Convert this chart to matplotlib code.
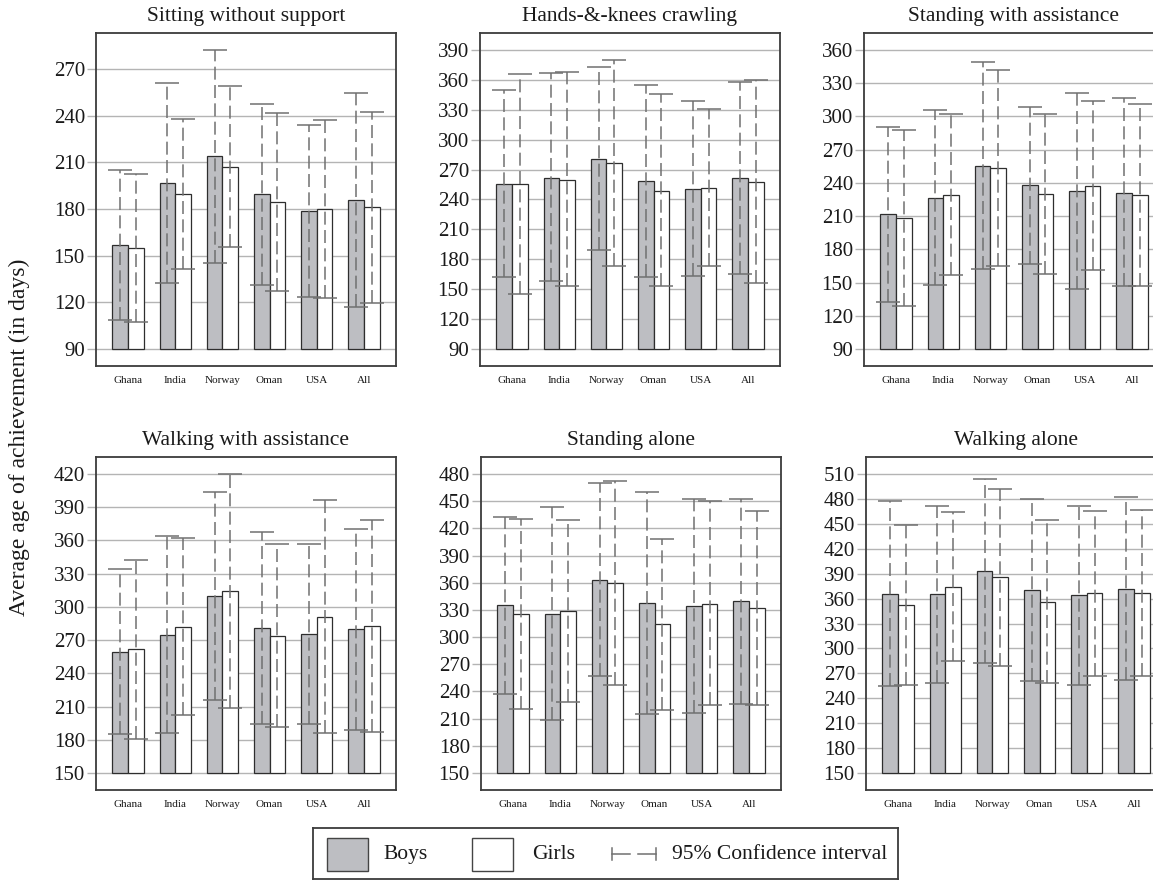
import numpy as np
import matplotlib
matplotlib.use("Agg")
import matplotlib.pyplot as plt
from matplotlib.patches import Rectangle
from matplotlib.lines import Line2D
import matplotlib.transforms as mtransforms

plt.rcParams['font.family'] = ['Liberation Serif', 'DejaVu Serif']

countries = ["Ghana", "India", "Norway", "Oman", "USA", "All"]

titles = ["Sitting without support", "Hands-&-knees crawling", "Standing with assistance",
          "Walking with assistance", "Standing alone", "Walking alone"]

# Sitting without support
sit_boys = [157, 197, 214, 189.5, 178.6, 186]
sit_girls = [155, 189.5, 207.3, 184.8, 179.7, 181]
sit_boys_lo = [108.8, 132.4, 145.6, 131.3, 123.2, 116.8]
sit_boys_hi = [205.2, 261, 282.4, 247.7, 234, 254.8]
sit_girls_lo = [107.3, 141.2, 155.7, 127.5, 122.5, 119.3]
sit_girls_hi = [202.6, 237.7, 259.3, 241.8, 237.3, 242.4]

# Hands-&-knees crawling
crawl_boys = [256, 262, 281.1, 258.4, 251, 262]
crawl_girls = [255.4, 260, 276.4, 249, 252, 258]
crawl_boys_lo = [161.8, 157.8, 189.6, 161.8, 162.8, 165.2]
crawl_boys_hi = [349.9, 367.3, 373, 355.3, 338.9, 358.3]
crawl_girls_lo = [144.8, 152.8, 173.5, 152.8, 172.9, 156.5]
crawl_girls_hi = [366.3, 368.3, 379.7, 345.9, 331.2, 360]

# Standing with assistance
stassist_boys = [211.5, 226.8, 255.7, 237.9, 232.5, 231.3]
stassist_girls = [208.2, 229.5, 253.6, 229.8, 237.6, 229]
stassist_boys_lo = [132.7, 148, 162.2, 167, 144.4, 146.5]
stassist_boys_hi = [290.5, 305.6, 348.9, 308.6, 320.9, 316.7]
stassist_girls_lo = [129.1, 156.4, 165.2, 158, 161, 147.1]
stassist_girls_hi = [287.5, 302.3, 341.7, 302.3, 314.3, 311.6]

# Walking with assistance
wassist_boys = [259.7, 274.8, 309.4, 280.5, 275.4, 279.6]
wassist_girls = [261.9, 282, 314.5, 273.6, 290.7, 282.3]
wassist_boys_lo = [185.5, 186.4, 216.1, 193.9, 194.5, 189.1]
wassist_boys_hi = [334.3, 363.8, 403.5, 367.7, 356.6, 370.4]
wassist_girls_lo = [180.7, 202, 208.3, 191.2, 186.1, 187]
wassist_girls_hi = [342.7, 362.6, 420.3, 356.9, 396.5, 378.2]

# Standing alone
stalone_boys = [335.2, 326, 363.2, 337.4, 334.5, 339.3]
stalone_girls = [326, 329, 359.5, 313.9, 337, 331.6]
stalone_boys_lo = [237.5, 208.8, 256.6, 214.7, 216.5, 225.7]
stalone_boys_hi = [432.6, 443.6, 470.1, 460.2, 452.5, 452.5]
stalone_girls_lo = [220.9, 228.6, 246.7, 219.1, 224.6, 225]
stalone_girls_hi = [430.8, 429.3, 471.9, 408.7, 450.3, 439.6]

# Walking alone
walone_boys = [366.1, 365.3, 393, 370.1, 364.5, 371.7]
walone_girls = [352.1, 374.5, 385.4, 356.1, 366.5, 366.5]
walone_boys_lo = [254.2, 257.9, 281.9, 260.3, 256.3, 261.5]
walone_boys_hi = [478, 472, 504, 480, 472, 482.4]
walone_girls_lo = [256.3, 284.7, 278.3, 257.9, 267.1, 267.1]
walone_girls_hi = [448.7, 464.3, 492, 455.1, 466, 466.8]

panels = [
    (sit_boys, sit_girls, sit_boys_lo, sit_boys_hi, sit_girls_lo, sit_girls_hi),
    (crawl_boys, crawl_girls, crawl_boys_lo, crawl_boys_hi, crawl_girls_lo, crawl_girls_hi),
    (stassist_boys, stassist_girls, stassist_boys_lo, stassist_boys_hi, stassist_girls_lo, stassist_girls_hi),
    (wassist_boys, wassist_girls, wassist_boys_lo, wassist_boys_hi, wassist_girls_lo, wassist_girls_hi),
    (stalone_boys, stalone_girls, stalone_boys_lo, stalone_boys_hi, stalone_girls_lo, stalone_girls_hi),
    (walone_boys, walone_girls, walone_boys_lo, walone_boys_hi, walone_girls_lo, walone_girls_hi),
]

baselines = [90, 90, 90, 150, 150, 150]
ylims = [(79.1, 293.1), (73, 407), (74.6, 375.4), (134.6, 435.4), (131.2, 498.8), (129.5, 530.5)]
yticks = [np.arange(90, 271, 30), np.arange(90, 391, 30), np.arange(90, 361, 30),
          np.arange(150, 421, 30), np.arange(150, 481, 30), np.arange(150, 511, 30)]

W, H = 1153, 880
fig = plt.figure(figsize=(W / 100, H / 100), dpi=100)

# axes rectangles in pixels: left, top, width, height
rects_px = [(96, 33), (480, 33), (864, 33), (96, 457), (481, 457), (866, 457)]
aw, ah = 300, 333

BOY = "#bdbec2"
EDGE = "#2e2e2e"
ERR = "#707070"
GRID = "#b4b4b4"
SPINE = "#3c3c3c"
TXT = "#1a1a1a"

bw = 0.333
x = np.arange(len(countries))

for i, (l, t) in enumerate(rects_px):
    ax = fig.add_axes([l / W, 1 - (t + ah) / H, aw / W, ah / H])
    boys, girls, blo, bhi, glo, ghi = [np.array(v, dtype=float) for v in panels[i]]
    base = baselines[i]
    xb = x - bw / 2
    xg = x + bw / 2
    ax.bar(xb, boys - base, bw, bottom=base, color=BOY, edgecolor=EDGE, linewidth=0.9, zorder=2)
    ax.bar(xg, girls - base, bw, bottom=base, color="white", edgecolor=EDGE, linewidth=0.9, zorder=2)
    for xs, m, lo, hi in [(xb, boys, blo, bhi), (xg, girls, glo, ghi)]:
        eb = ax.errorbar(xs, m, yerr=[m - lo, hi - m], fmt="none", ecolor=ERR,
                         elinewidth=1.1, capsize=8.5, capthick=1.1, zorder=3)
        eb.lines[2][0].set_linestyle((0, (8.5, 3.5)))
    ax.set_xlim(-0.68, 5.68)
    ax.set_ylim(*ylims[i])
    ax.set_yticks(yticks[i])
    ax.set_xticks(x)
    ax.set_xticklabels(countries)
    offset = mtransforms.ScaledTranslation(4 / 100, 0, fig.dpi_scale_trans)
    for lab in ax.get_xticklabels():
        lab.set_transform(lab.get_transform() + offset)
    ax.yaxis.grid(True, color=GRID, linewidth=1.0, zorder=0)
    ax.set_axisbelow(True)
    ax.tick_params(axis="y", direction="out", length=6.5, width=1.0, color=GRID,
                   labelsize=15, pad=1.5, labelcolor=TXT)
    ax.tick_params(axis="x", length=0, labelsize=8, pad=7, labelcolor=TXT)
    for s in ax.spines.values():
        s.set_color(SPINE)
        s.set_linewidth(1.3)
    ax.set_title(titles[i], fontsize=15.5, color=TXT, pad=9 if i < 3 else 8.5)

fig.text(19 / W, 1 - 437 / H, "Average age of achievement (in days)", rotation=90,
         ha="center", va="center", fontsize=17, color=TXT)

# legend box
lx, ltop, lw_, lh = 313, 828, 585, 51
lax = fig.add_axes([lx / W, 1 - (ltop + lh) / H, lw_ / W, lh / H])
lax.set_xlim(0, lw_)
lax.set_ylim(0, lh)
lax.set_xticks([])
lax.set_yticks([])
for s in lax.spines.values():
    s.set_color(SPINE)
    s.set_linewidth(1.3)
lax.add_patch(Rectangle((14, 8), 41, 33, facecolor=BOY, edgecolor="#444444", linewidth=1.0))
lax.text(70, 25, "Boys", fontsize=15.5, va="center", ha="left", color=TXT)
lax.add_patch(Rectangle((159, 8), 41, 33, facecolor="white", edgecolor="#444444", linewidth=1.0))
lax.text(219, 25, "Girls", fontsize=15.5, va="center", ha="left", color=TXT)
lax.add_line(Line2D([299, 317], [25, 25], color=ERR, linewidth=1.1))
lax.add_line(Line2D([325, 343], [25, 25], color=ERR, linewidth=1.1))
lax.add_line(Line2D([299, 299], [19, 31], color=ERR, linewidth=1.1))
lax.add_line(Line2D([343, 343], [19, 31], color=ERR, linewidth=1.1))
lax.text(359, 25, "95% Confidence interval", fontsize=15.5, va="center", ha="left", color=TXT)

fig.savefig("out.png", dpi=100)
